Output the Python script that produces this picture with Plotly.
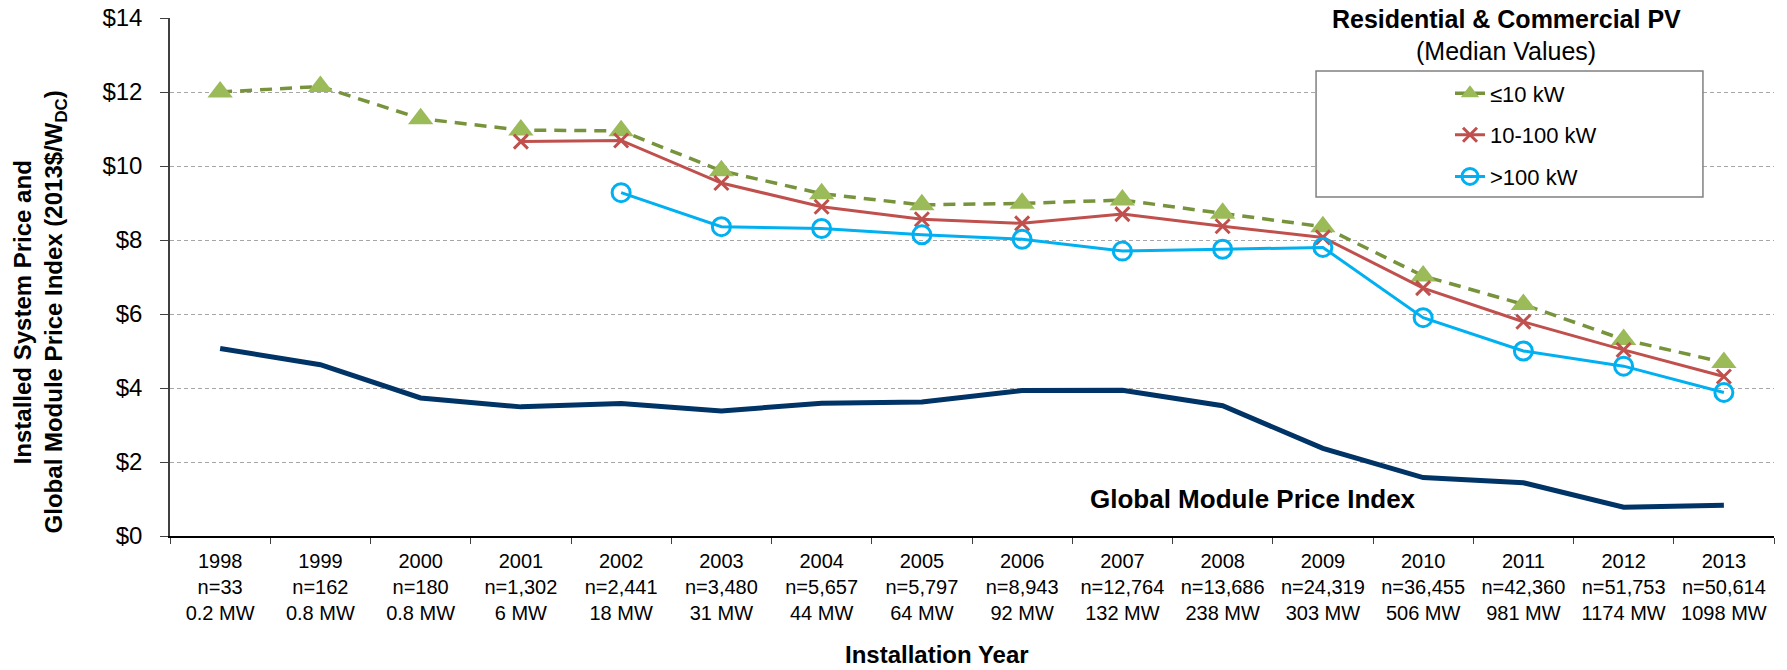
import plotly.graph_objects as go

# ---- data ----
years = ["1998", "1999", "2000", "2001", "2002", "2003", "2004", "2005",
         "2006", "2007", "2008", "2009", "2010", "2011", "2012", "2013"]
n_systems = ["33", "162", "180", "1,302", "2,441", "3,480", "5,657", "5,797",
             "8,943", "12,764", "13,686", "24,319", "36,455", "42,360", "51,753", "50,614"]
capacity = ["0.2 MW", "0.8 MW", "0.8 MW", "6 MW", "18 MW", "31 MW", "44 MW", "64 MW",
            "92 MW", "132 MW", "238 MW", "303 MW", "506 MW", "981 MW", "1174 MW", "1098 MW"]

small_10kw = [12.0, 12.15, 11.28, 10.97, 10.95, 9.87, 9.25, 8.95,
              8.99, 9.08, 8.72, 8.36, 7.03, 6.26, 5.31, 4.69]
mid_10_100kw = [None, None, None, 10.66, 10.69, 9.54, 8.90, 8.56,
                8.45, 8.70, 8.37, 8.07, 6.70, 5.79, 5.03, 4.31]
large_100kw = [None, None, None, None, 9.28, 8.36, 8.31, 8.14,
               8.02, 7.70, 7.75, 7.80, 5.90, 5.00, 4.59, 3.88]
module_index = [5.07, 4.63, 3.73, 3.49, 3.58, 3.38, 3.59, 3.62,
                3.93, 3.94, 3.52, 2.37, 1.58, 1.44, 0.78, 0.83]

series_names = ["≤10 kW", "10-100 kW", ">100 kW"]

categories = [f"{y}<br>n={n}<br>{c}" for y, n, c in zip(years, n_systems, capacity)]

FONT = "Liberation Sans, Arial, sans-serif"

fig = go.Figure()

fig.add_trace(go.Scatter(
    x=categories, y=small_10kw, name=series_names[0], mode="lines+markers",
    line=dict(color="#77933C", width=3.5, dash="12px,8px"),
    marker=dict(symbol="triangle-up", size=22, color="#9BBB59"),
    legendgroup="a",
))
fig.add_trace(go.Scatter(
    x=categories, y=mid_10_100kw, name=series_names[1], mode="lines+markers",
    line=dict(color="#C0504D", width=3),
    marker=dict(symbol="x-thin", size=14, color="#C0504D",
                line=dict(color="#C0504D", width=3)),
    legendgroup="b",
))
fig.add_trace(go.Scatter(
    x=categories, y=large_100kw, name=series_names[2], mode="lines+markers",
    line=dict(color="#00B0F0", width=3),
    marker=dict(symbol="circle-open", size=18, color="#00B0F0",
                line=dict(color="#00B0F0", width=3)),
    legendgroup="c",
))
fig.add_trace(go.Scatter(
    x=categories, y=module_index, name="Global Module Price Index", mode="lines",
    line=dict(color="#003366", width=5),
    showlegend=False,
))

fig.update_layout(
    width=1787, height=670,
    margin=dict(l=170, r=13, t=18, b=134, autoexpand=False),
    paper_bgcolor="white", plot_bgcolor="white",
    font=dict(family=FONT, color="black"),
    showlegend=True,
    legend=dict(
        x=0.798, xanchor="left", y=0.895, yanchor="top",
        bgcolor="rgba(0,0,0,0)", borderwidth=0,
        font=dict(family=FONT, size=22, color="black"),
        traceorder="grouped", tracegroupgap=10,
    ),
    xaxis=dict(
        type="category", tickson="boundaries", range=[-0.5, 15.5],
        automargin=False, tickangle=0,
        showline=True, linecolor="black", linewidth=1.5,
        ticks="outside", ticklen=6, tickcolor="#404040",
        showgrid=False,
        tickfont=dict(family=FONT, size=20, color="black"),
        ticklabelstandoff=6,
    ),
    yaxis=dict(
        range=[0, 14], dtick=2, tickprefix="$", automargin=False,
        showline=True, linecolor="#404040", linewidth=1.5,
        ticks="outside", ticklen=8, tickcolor="#404040",
        showgrid=True, gridcolor="#A6A6A6", gridwidth=1, griddash="4px,3px",
        zeroline=False,
        tickfont=dict(family=FONT, size=24, color="black"),
        ticklabelstandoff=13, ticklabeloverflow="allow",
    ),
)

# legend frame
fig.add_shape(type="rect", xref="paper", yref="paper",
              x0=0.7145, x1=0.9557, y0=0.6544, y1=0.8977,
              line=dict(color="#808080", width=1.5), fillcolor="white", layer="above")

annotations = [
    dict(text="<b>Residential & Commercial PV</b>", x=0.833, y=0.998,
         font=dict(size=25)),
    dict(text="(Median Values)", x=0.833, y=0.936, font=dict(size=25)),
    dict(text="<b>Global Module Price Index</b>", x=0.675, y=0.0714,
         font=dict(size=26)),
    dict(text="<b>Installation Year</b>", x=0.478, y=-0.2297, font=dict(size=24)),
    dict(text="<b>Installed System Price and</b>", x=-0.0922, y=0.432,
         textangle=-90, font=dict(size=24)),
    dict(text="<b>Global Module Price Index (2013$/W<sub>DC</sub>)</b>", x=-0.0716, y=0.432,
         textangle=-90, font=dict(size=24)),
]
for a in annotations:
    fig.add_annotation(xref="paper", yref="paper", showarrow=False,
                       xanchor="center", yanchor="middle",
                       text=a["text"], x=a["x"], y=a["y"],
                       textangle=a.get("textangle", 0),
                       font=dict(family=FONT, color="black", size=a["font"]["size"]))

# remove the browser's default 8px body margin so the figure fills the window exactly
fig.write_html("out.html", config={"displayModeBar": False},
               post_script="document.body.style.margin='0';")
